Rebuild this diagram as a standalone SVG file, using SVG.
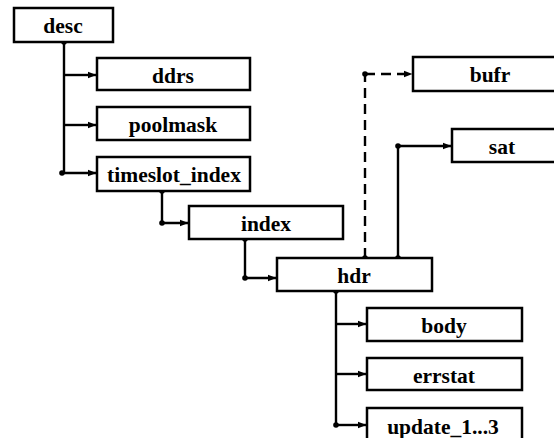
<svg xmlns="http://www.w3.org/2000/svg" width="554" height="438" viewBox="0 0 554 438">
<style>
.box{fill:#fff;stroke:#000;stroke-width:2.5}
.lbl{font-family:"Liberation Serif","Times New Roman",serif;font-weight:bold;font-size:21.5px;text-anchor:middle;fill:#000}
.ln{fill:none;stroke:#000;stroke-width:2.4}
.dash{stroke-dasharray:10 6}
.dot{fill:#000}
</style>
<defs>
<marker id="ah" markerWidth="9" markerHeight="8" refX="8.5" refY="4" orient="auto" markerUnits="userSpaceOnUse">
<path d="M0,0.5 L9,4 L0,7.5 Z" fill="#000"/>
</marker>
</defs>
<g id="connectors">
<path class="ln" d="M64,42 V173"/>
<path class="ln" d="M64,75 H96" marker-end="url(#ah)"/>
<path class="ln" d="M64,125 H96" marker-end="url(#ah)"/>
<path class="ln" d="M62,173 H96" marker-end="url(#ah)"/>
<path class="ln" d="M162,191 V223 H188" marker-end="url(#ah)"/>
<path class="ln" d="M245,239 V278 H276" marker-end="url(#ah)"/>
<path class="ln dash" d="M365,258 V74"/>
<path class="ln dash" d="M365,74 H412" marker-end="url(#ah)"/>
<path class="ln" d="M398,258 V146 H451" marker-end="url(#ah)"/>
<path class="ln" d="M336,291 V425"/>
<path class="ln" d="M336,324 H366" marker-end="url(#ah)"/>
<path class="ln" d="M336,374 H366" marker-end="url(#ah)"/>
<path class="ln" d="M336,425 H366" marker-end="url(#ah)"/>
<circle class="dot" cx="64" cy="42" r="2.8"/>
<circle class="dot" cx="62" cy="173" r="2.8"/>
<circle class="dot" cx="162" cy="191" r="2.8"/>
<circle class="dot" cx="162" cy="223" r="2.8"/>
<circle class="dot" cx="245" cy="239" r="2.8"/>
<circle class="dot" cx="245" cy="278" r="2.8"/>
<circle class="dot" cx="365" cy="258" r="2.8"/>
<circle class="dot" cx="365" cy="74" r="2.8"/>
<circle class="dot" cx="398" cy="258" r="2.8"/>
<circle class="dot" cx="398" cy="146" r="2.8"/>
<circle class="dot" cx="336" cy="291" r="2.8"/>
<circle class="dot" cx="336" cy="425" r="2.8"/>
</g>
<g id="desc"><rect class="box" x="14" y="8" width="99" height="34"/><text class="lbl" x="63" y="33">desc</text></g>
<g id="ddrs"><rect class="box" x="97" y="58" width="153" height="32"/><text class="lbl" x="173" y="83">ddrs</text></g>
<g id="poolmask"><rect class="box" x="97" y="107" width="153" height="33"/><text class="lbl" x="173" y="132">poolmask</text></g>
<g id="timeslot_index"><rect class="box" x="97" y="157" width="153" height="34"/><text class="lbl" x="174" y="182">timeslot_index</text></g>
<g id="index"><rect class="box" x="189" y="206" width="154" height="33"/><text class="lbl" x="266" y="231">index</text></g>
<g id="hdr"><rect class="box" x="277" y="258" width="155" height="33"/><text class="lbl" x="354" y="283">hdr</text></g>
<g id="bufr"><rect class="box" x="413" y="57" width="150" height="34"/><text class="lbl" x="490" y="82">bufr</text></g>
<g id="sat"><rect class="box" x="452" y="129" width="120" height="33"/><text class="lbl" x="502" y="154">sat</text></g>
<g id="body"><rect class="box" x="367" y="308" width="155" height="33"/><text class="lbl" x="444" y="333">body</text></g>
<g id="errstat"><rect class="box" x="367" y="358" width="155" height="32"/><text class="lbl" x="444" y="383">errstat</text></g>
<g id="update"><rect class="box" x="367" y="408" width="155" height="40"/><text class="lbl" x="443" y="434">update_1...3</text></g>
</svg>
